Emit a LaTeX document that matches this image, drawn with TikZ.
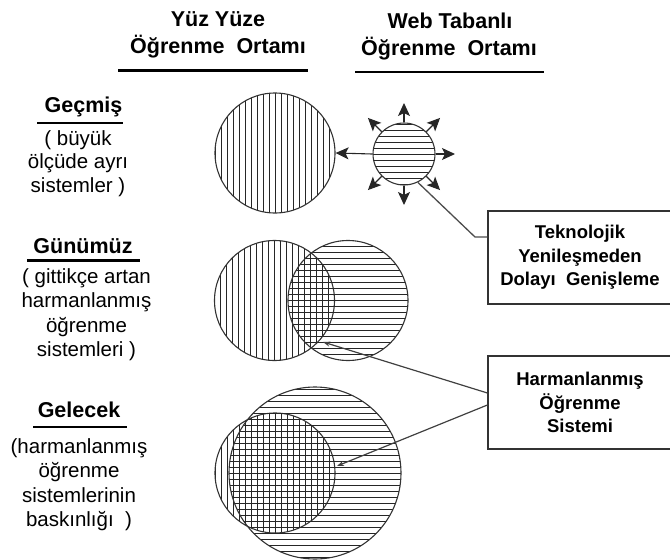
\documentclass[tikz,border=0pt]{standalone}
\usepackage{fontspec}
\setmainfont{Liberation Sans}
\usetikzlibrary{arrows.meta,calc}
\begin{document}
\begin{tikzpicture}[x=1pt,y=-1pt,
  circ/.style={circle,draw=black!80,line width=1.1pt,inner sep=0pt},
  hline/.style={black!85,line width=0.75pt},
  hatchV/.style={path picture={\foreach \k in {-16,...,16}{\draw[hline] ([xshift=\k*6pt]path picture bounding box.north) -- ([xshift=\k*6pt]path picture bounding box.south);}}},
  hatchH/.style={path picture={\foreach \k in {-16,...,16}{\draw[hline] ([yshift=\k*6pt]path picture bounding box.west) -- ([yshift=\k*6pt]path picture bounding box.east);}}},
  hdr/.style={anchor=base,inner sep=0pt,font=\fontsize{21.5}{26}\selectfont\bfseries},
  body/.style={anchor=base,inner sep=0pt,font=\fontsize{20.5}{24}\selectfont},
  uline/.style={line width=2.6pt},
  note/.style={draw=black!80,line width=1.2pt,align=center,minimum width=184pt,minimum height=93pt,inner sep=0pt,font=\fontsize{18.5}{23.5}\selectfont\bfseries},
  ray/.style={black!85,line width=1.1pt,-{Stealth[length=13pt,width=12pt,inset=3pt]}},
  lead/.style={black!70,line width=1.3pt},
  pointer/.style={black!75,line width=1.2pt,-{Stealth[length=7pt,width=5pt]}}
]
\useasboundingbox (0,0) rectangle (670,560);

% headers
\node[hdr] (h1a) at (218,26.5) {Yüz Yüze};
\node[hdr] (h1b) at (218,53.5) {Öğrenme\ \ Ortamı};
\draw[uline] (118,70.5) -- (308,70.5);
\node[hdr] (h2a) at (450,28) {Web Tabanlı};
\node[hdr] (h2b) at (449,55) {Öğrenme\ \ Ortamı};
\draw[uline] (355,72) -- (544,72);

% Geçmiş
\node[hdr] (g0) at (83.5,112) {Geçmiş};
\draw[uline] (37,123) -- (123,123);
\node[body] (g1) at (78,145) {( büyük};
\node[body] (g2) at (78,168.5) {ölçüde ayrı};
\node[body] (g3) at (78,192) {sistemler )};

% Günümüz
\node[hdr] (n0) at (83,253) {Günümüz};
\draw[uline] (27,260.5) -- (140,260.5);
\node[body] (n1) at (86.5,283) {( gittikçe artan};
\node[body] (n2) at (86.5,307.5) {harmanlanmış};
\node[body] (n3) at (86.5,332) {öğrenme};
\node[body] (n4) at (86.5,356.5) {sistemleri )};

% Gelecek
\node[hdr] (f0) at (79,417) {Gelecek};
\draw[uline] (33,427) -- (127,427);
\node[body] (f1) at (79,453) {(harmanlanmış};
\node[body] (f2) at (79,477.5) {öğrenme};
\node[body] (f3) at (79,502) {sistemlerinin};
\node[body] (f4) at (79,526.5) {baskınlığı\ \ )};

% circles
\node[circ,hatchV,minimum size=120pt] (C1) at (275,153) {};
\node[circ,hatchH,minimum size=62pt] (S) at (404,154) {};
\node[circ,hatchV,minimum size=120pt] (C2L) at (274.5,300.5) {};
\node[circ,hatchH,minimum size=120pt] (C2R) at (348,300.5) {};
\node[circ,hatchV,minimum size=120pt] (C3V) at (275,473) {};
\node[circ,hatchH,minimum size=172pt] (C3H) at (315,473) {};

% boxes
\node[note] (B1) at (580,257.5) {Teknolojik\\Yenileşmeden\\Dolayı\ \ Genişleme};
\node[note] (B2) at (580,402.5) {Harmanlanmış\\Öğrenme\\Sistemi};

% connectors
\draw[ray] (S.west) -- (C1.east);
\foreach \a in {0,45,90,135,225,270,315}
  \draw[ray] (S.\a) -- ($(S.center)+(\a:51pt)$);
\coordinate (k1) at (475,237);
\draw[lead] (S.-64) -- (k1) -- (k1 -| B1.west);
\coordinate (t2) at (323,342);
\coordinate (t3) at (337,466);
\draw[pointer] ($(B2.west)+(0,9.5pt)$) -- (t2);
\draw[pointer] ($(B2.west)+(0,-2.5pt)$) -- (t3);
\end{tikzpicture}
\end{document}
